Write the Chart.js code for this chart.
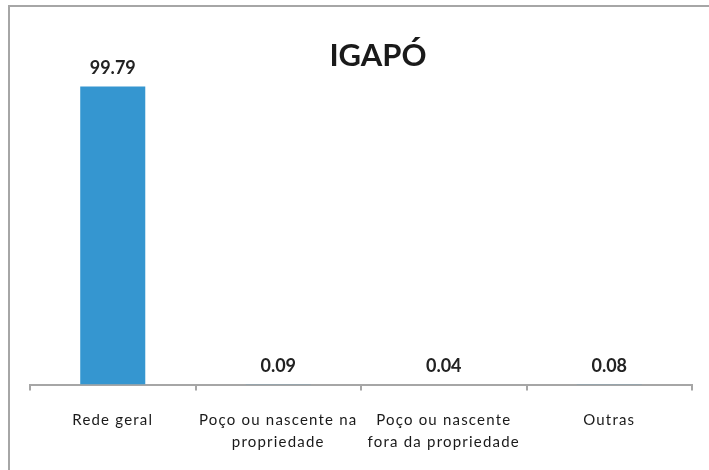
<!DOCTYPE html>
<html><head><meta charset="utf-8">
<script src="https://cdn.jsdelivr.net/npm/chart.js@4/dist/chart.umd.min.js"></script>
<style>
html,body{margin:0;padding:0;background:#fff;}
#wrap{position:relative;width:709px;height:470px;overflow:hidden;}
#frame{position:absolute;left:8px;top:5px;width:720px;height:480px;border:2px solid #a6a6a6;box-sizing:border-box;pointer-events:none;}
canvas{position:absolute;left:0;top:0;}
</style></head>
<body>
<div id="wrap"><canvas id="c" width="709" height="474"></canvas><div id="frame"></div></div>
<script>
const chartTitle = 'IGAPÓ';
const categories = [['Rede geral'], ['Poço ou nascente na', 'propriedade'], ['Poço ou nascente', 'fora da propriedade'], ['Outras']];
const values = [99.79, 0.09, 0.04, 0.08];
const valueLabels = ['99.79', '0.09', '0.04', '0.08'];

const spacingPlugin = {
  id: 'spacing',
  beforeDraw(chart) { chart.ctx.letterSpacing = '1.2px'; }
};

const labelPlugin = {
  id: 'labels',
  afterDatasetsDraw(chart) {
    const ctx = chart.ctx;
    const meta = chart.getDatasetMeta(0);
    ctx.save();
    ctx.letterSpacing = '0px';
    ctx.fillStyle = '#222';
    ctx.font = 'bold 18px Lato, "Liberation Sans", Arial, sans-serif';
    ctx.textAlign = 'center';
    ctx.textBaseline = 'middle';
    meta.data.forEach((bar, i) => {
      ctx.fillText(valueLabels[i], bar.x, bar.y - 18);
    });
    ctx.fillStyle = '#1a1a1a';
    ctx.font = 'bold 31px Lato, "Liberation Sans", Arial, sans-serif';
    ctx.fillText(chartTitle, 378, 56);
    ctx.restore();
  }
};

new Chart(document.getElementById('c'), {
  type: 'bar',
  data: {
    labels: categories,
    datasets: [{ data: values, backgroundColor: '#3596d0', barPercentage: 0.393, categoryPercentage: 1 }]
  },
  options: {
    responsive: false,
    animation: false,
    layout: { padding: { left: 30, right: 17, top: 26, bottom: 2 } },
    plugins: { legend: { display: false }, tooltip: { enabled: false } },
    scales: {
      y: { display: false, min: 0, max: 120 },
      x: {
        offset: true,
        border: { display: true, color: '#a6a6a6', width: 2 },
        grid: { offset: true, drawOnChartArea: false, color: '#a6a6a6', lineWidth: 2, tickLength: 6 },
        ticks: { color: '#1a1a1a', maxRotation: 0, autoSkip: false, padding: 19,
          font: { family: 'Lato, "Liberation Sans", Arial, sans-serif', size: 15, lineHeight: 1.45 } }
      }
    }
  },
  plugins: [spacingPlugin, labelPlugin]
});
</script>
</body></html>
